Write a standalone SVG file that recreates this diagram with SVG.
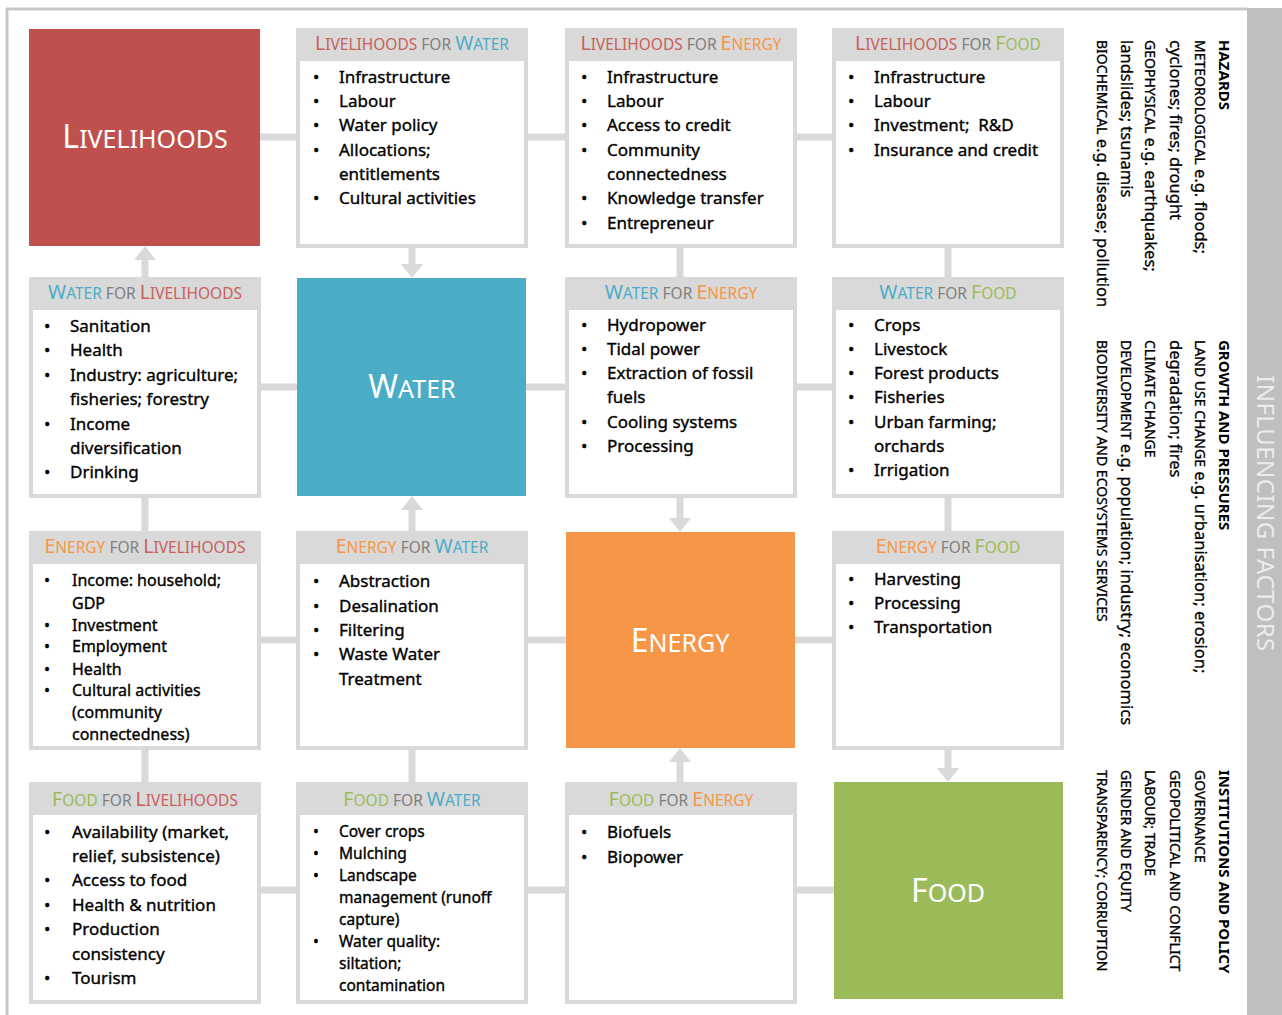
<svg xmlns="http://www.w3.org/2000/svg" width="1282" height="1015" viewBox="0 0 1282 1015">
<style>
.bg{fill:#fff}
.frame{stroke:#c8c8c8;stroke-width:3;fill:none}
.side{fill:#bfbfbf}
.cn{stroke:#d9d9d9;stroke-width:7;fill:none}
.ca{stroke:#d9d9d9;stroke-width:7;fill:none;marker-end:url(#ah)}
.cardbg{fill:#d9d9d9}
.cardin{fill:#fff}
.t{font-family:"Noto Sans","Liberation Sans",sans-serif;font-size:17px;fill:#000;stroke:#000;stroke-width:0.35px}
.ts{font-family:"Noto Sans","Liberation Sans",sans-serif;font-size:16px;fill:#000;stroke:#000;stroke-width:0.35px}
.tf{font-family:"Noto Sans","Liberation Sans",sans-serif;font-size:15.5px;fill:#000;stroke:#000;stroke-width:0.35px}
.hd{font-family:"Noto Sans","Liberation Sans",sans-serif;text-anchor:middle}
.hL{font-size:19.5px}
.hs{font-size:15.5px}
.big{font-family:"Noto Sans","Liberation Sans",sans-serif;fill:#fff;text-anchor:middle}
.bL{font-size:32px}
.bs{font-size:25px}
.cl{fill:#c8605c}
.cw{fill:#4bacc6}
.ce{fill:#f79646}
.cf{fill:#9bbb59}
.cg{fill:#7f7f7f}
.rt{font-family:"Noto Sans","Liberation Sans",sans-serif;font-size:16.5px;fill:#000;stroke:#000;stroke-width:0.3px}
.rc{font-size:14px}
.rb{font-family:"Noto Sans","Liberation Sans",sans-serif;font-size:15px;font-weight:bold;fill:#000}
.inf{font-family:"Noto Sans","Liberation Sans",sans-serif;font-size:24px;fill:#ececec;letter-spacing:0.5px}
</style>
<defs>
<marker id="ah" viewBox="0 0 14 22" refX="6" refY="11" markerWidth="14" markerHeight="22" markerUnits="userSpaceOnUse" orient="auto">
<path d="M0,0 L14,11 L0,22 z" fill="#d9d9d9"/>
</marker>
</defs>
<rect class="bg" x="0" y="0" width="1282" height="1015"/>
<g id="frame">
<line class="frame" x1="6" y1="9" x2="1247" y2="9"/>
<line class="frame" x1="7" y1="9" x2="7" y2="1015"/>
<rect class="side" x="1247" y="8" width="35" height="1007"/>
<text class="inf" transform="translate(1257,375) rotate(90)">INFLUENCING FACTORS</text>
</g>
<g id="connectors">
<line class="cn" x1="260" y1="137" x2="296" y2="137"/>
<line class="cn" x1="528" y1="137" x2="565" y2="137"/>
<line class="cn" x1="797" y1="137" x2="832" y2="137"/>
<line class="cn" x1="261" y1="387" x2="297" y2="387"/>
<line class="cn" x1="526" y1="387" x2="565" y2="387"/>
<line class="cn" x1="797" y1="387" x2="832" y2="387"/>
<line class="cn" x1="261" y1="640" x2="296" y2="640"/>
<line class="cn" x1="528" y1="640" x2="566" y2="640"/>
<line class="cn" x1="795" y1="640" x2="832" y2="640"/>
<line class="cn" x1="261" y1="890" x2="296" y2="890"/>
<line class="cn" x1="528" y1="890" x2="565" y2="890"/>
<line class="cn" x1="797" y1="890" x2="834" y2="890"/>
<line class="ca" x1="145" y1="277" x2="145" y2="254"/>
<line class="cn" x1="145" y1="498" x2="145" y2="531"/>
<line class="cn" x1="145" y1="750" x2="145" y2="782"/>
<line class="ca" x1="412" y1="248" x2="412" y2="270"/>
<line class="ca" x1="412" y1="531" x2="412" y2="504"/>
<line class="cn" x1="412" y1="750" x2="412" y2="782"/>
<line class="cn" x1="680" y1="248" x2="680" y2="277"/>
<line class="ca" x1="680" y1="498" x2="680" y2="524"/>
<line class="ca" x1="680" y1="782" x2="680" y2="756"/>
<line class="cn" x1="948" y1="248" x2="948" y2="277"/>
<line class="cn" x1="948" y1="498" x2="948" y2="531"/>
<line class="ca" x1="948" y1="750" x2="948" y2="774"/>
</g>
<g id="livelihoods">
<rect x="29" y="29" width="231" height="217" fill="#c0504d"/>
<text class="big" x="145" y="148"><tspan class="bL">L</tspan><tspan class="bs">IVELIHOODS</tspan></text>
</g>
<g id="water">
<rect x="297" y="278" width="229" height="218" fill="#4bacc6"/>
<text class="big" x="412" y="398"><tspan class="bL">W</tspan><tspan class="bs">ATER</tspan></text>
</g>
<g id="energy">
<rect x="566" y="532" width="229" height="216" fill="#f79646"/>
<text class="big" x="680" y="652"><tspan class="bL">E</tspan><tspan class="bs">NERGY</tspan></text>
</g>
<g id="food">
<rect x="834" y="782" width="229" height="217" fill="#9bbb59"/>
<text class="big" x="948" y="902"><tspan class="bL">F</tspan><tspan class="bs">OOD</tspan></text>
</g>
<g id="livelihoods-for-water">
<rect class="cardbg" x="296" y="28" width="232" height="220"/>
<rect class="cardin" x="300" y="61" width="224" height="183"/>
<text class="hd" x="412" y="50"><tspan class="hL cl">L</tspan><tspan class="hs cl">IVELIHOODS</tspan><tspan class="hs cg"> FOR </tspan><tspan class="hL cw">W</tspan><tspan class="hs cw">ATER</tspan></text>
<text class="t" x="313" y="83">•</text><text class="t" x="339" y="83">Infrastructure</text>
<text class="t" x="313" y="107">•</text><text class="t" x="339" y="107">Labour</text>
<text class="t" x="313" y="131">•</text><text class="t" x="339" y="131">Water policy</text>
<text class="t" x="313" y="156">•</text><text class="t" x="339" y="156">Allocations;</text>
<text class="t" x="339" y="180">entitlements</text>
<text class="t" x="313" y="204">•</text><text class="t" x="339" y="204">Cultural activities</text>
</g>
<g id="livelihoods-for-energy">
<rect class="cardbg" x="565" y="28" width="232" height="220"/>
<rect class="cardin" x="569" y="61" width="224" height="183"/>
<text class="hd" x="681" y="50"><tspan class="hL cl">L</tspan><tspan class="hs cl">IVELIHOODS</tspan><tspan class="hs cg"> FOR </tspan><tspan class="hL ce">E</tspan><tspan class="hs ce">NERGY</tspan></text>
<text class="t" x="581" y="83">•</text><text class="t" x="607" y="83">Infrastructure</text>
<text class="t" x="581" y="107">•</text><text class="t" x="607" y="107">Labour</text>
<text class="t" x="581" y="131">•</text><text class="t" x="607" y="131">Access to credit</text>
<text class="t" x="581" y="156">•</text><text class="t" x="607" y="156">Community</text>
<text class="t" x="607" y="180">connectedness</text>
<text class="t" x="581" y="204">•</text><text class="t" x="607" y="204">Knowledge transfer</text>
<text class="t" x="581" y="229">•</text><text class="t" x="607" y="229">Entrepreneur</text>
</g>
<g id="livelihoods-for-food">
<rect class="cardbg" x="832" y="28" width="232" height="220"/>
<rect class="cardin" x="836" y="61" width="224" height="183"/>
<text class="hd" x="948" y="50"><tspan class="hL cl">L</tspan><tspan class="hs cl">IVELIHOODS</tspan><tspan class="hs cg"> FOR </tspan><tspan class="hL cf">F</tspan><tspan class="hs cf">OOD</tspan></text>
<text class="t" x="848" y="83">•</text><text class="t" x="874" y="83">Infrastructure</text>
<text class="t" x="848" y="107">•</text><text class="t" x="874" y="107">Labour</text>
<text class="t" x="848" y="131">•</text><text class="t" x="874" y="131">Investment;&#160; R&amp;D</text>
<text class="t" x="848" y="156">•</text><text class="t" x="874" y="156">Insurance and credit</text>
</g>
<g id="water-for-livelihoods">
<rect class="cardbg" x="29" y="277" width="232" height="221"/>
<rect class="cardin" x="33" y="310" width="224" height="184"/>
<text class="hd" x="145" y="299"><tspan class="hL cw">W</tspan><tspan class="hs cw">ATER</tspan><tspan class="hs cg"> FOR </tspan><tspan class="hL cl">L</tspan><tspan class="hs cl">IVELIHOODS</tspan></text>
<text class="t" x="44" y="332">•</text><text class="t" x="70" y="332">Sanitation</text>
<text class="t" x="44" y="356">•</text><text class="t" x="70" y="356">Health</text>
<text class="t" x="44" y="381">•</text><text class="t" x="70" y="381">Industry: agriculture;</text>
<text class="t" x="70" y="405">fisheries; forestry</text>
<text class="t" x="44" y="430">•</text><text class="t" x="70" y="430">Income</text>
<text class="t" x="70" y="454">diversification</text>
<text class="t" x="44" y="478">•</text><text class="t" x="70" y="478">Drinking</text>
</g>
<g id="water-for-energy">
<rect class="cardbg" x="565" y="277" width="232" height="221"/>
<rect class="cardin" x="569" y="310" width="224" height="184"/>
<text class="hd" x="681" y="299"><tspan class="hL cw">W</tspan><tspan class="hs cw">ATER</tspan><tspan class="hs cg"> FOR </tspan><tspan class="hL ce">E</tspan><tspan class="hs ce">NERGY</tspan></text>
<text class="t" x="581" y="331">•</text><text class="t" x="607" y="331">Hydropower</text>
<text class="t" x="581" y="355">•</text><text class="t" x="607" y="355">Tidal power</text>
<text class="t" x="581" y="379">•</text><text class="t" x="607" y="379">Extraction of fossil</text>
<text class="t" x="607" y="403">fuels</text>
<text class="t" x="581" y="428">•</text><text class="t" x="607" y="428">Cooling systems</text>
<text class="t" x="581" y="452">•</text><text class="t" x="607" y="452">Processing</text>
</g>
<g id="water-for-food">
<rect class="cardbg" x="832" y="277" width="232" height="221"/>
<rect class="cardin" x="836" y="310" width="224" height="184"/>
<text class="hd" x="948" y="299"><tspan class="hL cw">W</tspan><tspan class="hs cw">ATER</tspan><tspan class="hs cg"> FOR </tspan><tspan class="hL cf">F</tspan><tspan class="hs cf">OOD</tspan></text>
<text class="t" x="848" y="331">•</text><text class="t" x="874" y="331">Crops</text>
<text class="t" x="848" y="355">•</text><text class="t" x="874" y="355">Livestock</text>
<text class="t" x="848" y="379">•</text><text class="t" x="874" y="379">Forest products</text>
<text class="t" x="848" y="403">•</text><text class="t" x="874" y="403">Fisheries</text>
<text class="t" x="848" y="428">•</text><text class="t" x="874" y="428">Urban farming;</text>
<text class="t" x="874" y="452">orchards</text>
<text class="t" x="848" y="476">•</text><text class="t" x="874" y="476">Irrigation</text>
</g>
<g id="energy-for-livelihoods">
<rect class="cardbg" x="29" y="531" width="232" height="219"/>
<rect class="cardin" x="33" y="564" width="224" height="182"/>
<text class="hd" x="145" y="553"><tspan class="hL ce">E</tspan><tspan class="hs ce">NERGY</tspan><tspan class="hs cg"> FOR </tspan><tspan class="hL cl">L</tspan><tspan class="hs cl">IVELIHOODS</tspan></text>
<text class="ts" x="44" y="586">•</text><text class="ts" x="72" y="586">Income: household;</text>
<text class="ts" x="72" y="609">GDP</text>
<text class="ts" x="44" y="631">•</text><text class="ts" x="72" y="631">Investment</text>
<text class="ts" x="44" y="652">•</text><text class="ts" x="72" y="652">Employment</text>
<text class="ts" x="44" y="675">•</text><text class="ts" x="72" y="675">Health</text>
<text class="ts" x="44" y="696">•</text><text class="ts" x="72" y="696">Cultural activities</text>
<text class="ts" x="72" y="718">(community</text>
<text class="ts" x="72" y="740">connectedness)</text>
</g>
<g id="energy-for-water">
<rect class="cardbg" x="296" y="531" width="232" height="219"/>
<rect class="cardin" x="300" y="564" width="224" height="182"/>
<text class="hd" x="412" y="553"><tspan class="hL ce">E</tspan><tspan class="hs ce">NERGY</tspan><tspan class="hs cg"> FOR </tspan><tspan class="hL cw">W</tspan><tspan class="hs cw">ATER</tspan></text>
<text class="t" x="313" y="587">•</text><text class="t" x="339" y="587">Abstraction</text>
<text class="t" x="313" y="612">•</text><text class="t" x="339" y="612">Desalination</text>
<text class="t" x="313" y="636">•</text><text class="t" x="339" y="636">Filtering</text>
<text class="t" x="313" y="660">•</text><text class="t" x="339" y="660">Waste Water</text>
<text class="t" x="339" y="685">Treatment</text>
</g>
<g id="energy-for-food">
<rect class="cardbg" x="832" y="531" width="232" height="219"/>
<rect class="cardin" x="836" y="564" width="224" height="182"/>
<text class="hd" x="948" y="553"><tspan class="hL ce">E</tspan><tspan class="hs ce">NERGY</tspan><tspan class="hs cg"> FOR </tspan><tspan class="hL cf">F</tspan><tspan class="hs cf">OOD</tspan></text>
<text class="t" x="848" y="585">•</text><text class="t" x="874" y="585">Harvesting</text>
<text class="t" x="848" y="609">•</text><text class="t" x="874" y="609">Processing</text>
<text class="t" x="848" y="633">•</text><text class="t" x="874" y="633">Transportation</text>
</g>
<g id="food-for-livelihoods">
<rect class="cardbg" x="29" y="782" width="232" height="222"/>
<rect class="cardin" x="33" y="815" width="224" height="185"/>
<text class="hd" x="145" y="806"><tspan class="hL cf">F</tspan><tspan class="hs cf">OOD</tspan><tspan class="hs cg"> FOR </tspan><tspan class="hL cl">L</tspan><tspan class="hs cl">IVELIHOODS</tspan></text>
<text class="t" x="44" y="838">•</text><text class="t" x="72" y="838">Availability (market,</text>
<text class="t" x="72" y="862">relief, subsistence)</text>
<text class="t" x="44" y="886">•</text><text class="t" x="72" y="886">Access to food</text>
<text class="t" x="44" y="911">•</text><text class="t" x="72" y="911">Health &amp; nutrition</text>
<text class="t" x="44" y="935">•</text><text class="t" x="72" y="935">Production</text>
<text class="t" x="72" y="960">consistency</text>
<text class="t" x="44" y="984">•</text><text class="t" x="72" y="984">Tourism</text>
</g>
<g id="food-for-water">
<rect class="cardbg" x="296" y="782" width="232" height="222"/>
<rect class="cardin" x="300" y="815" width="224" height="185"/>
<text class="hd" x="412" y="806"><tspan class="hL cf">F</tspan><tspan class="hs cf">OOD</tspan><tspan class="hs cg"> FOR </tspan><tspan class="hL cw">W</tspan><tspan class="hs cw">ATER</tspan></text>
<text class="tf" x="313" y="837">•</text><text class="tf" x="339" y="837">Cover crops</text>
<text class="tf" x="313" y="859">•</text><text class="tf" x="339" y="859">Mulching</text>
<text class="tf" x="313" y="881">•</text><text class="tf" x="339" y="881">Landscape</text>
<text class="tf" x="339" y="903">management (runoff</text>
<text class="tf" x="339" y="925">capture)</text>
<text class="tf" x="313" y="947">•</text><text class="tf" x="339" y="947">Water quality:</text>
<text class="tf" x="339" y="969">siltation;</text>
<text class="tf" x="339" y="991">contamination</text>
</g>
<g id="food-for-energy">
<rect class="cardbg" x="565" y="782" width="232" height="222"/>
<rect class="cardin" x="569" y="815" width="224" height="185"/>
<text class="hd" x="681" y="806"><tspan class="hL cf">F</tspan><tspan class="hs cf">OOD</tspan><tspan class="hs cg"> FOR </tspan><tspan class="hL ce">E</tspan><tspan class="hs ce">NERGY</tspan></text>
<text class="t" x="581" y="838">•</text><text class="t" x="607" y="838">Biofuels</text>
<text class="t" x="581" y="863">•</text><text class="t" x="607" y="863">Biopower</text>
</g>
<g id="hazards">
<text class="rb" transform="translate(1219,40) rotate(90)">HAZARDS</text>
<text class="rt" transform="translate(1195,40) rotate(90)"><tspan class="rc">METEOROLOGICAL</tspan> e.g. floods;</text>
<text class="rt" transform="translate(1170,40) rotate(90)">cyclones; fires; drought</text>
<text class="rt" transform="translate(1145,40) rotate(90)"><tspan class="rc">GEOPHYSICAL</tspan> e.g. earthquakes;</text>
<text class="rt" transform="translate(1121,40) rotate(90)">landslides; tsunamis</text>
<text class="rt" transform="translate(1097,40) rotate(90)"><tspan class="rc">BIOCHEMICAL</tspan> e.g. disease; pollution</text>
</g>
<g id="growth">
<text class="rb" transform="translate(1219,340) rotate(90)">GROWTH AND PRESSURES</text>
<text class="rt" transform="translate(1195,340) rotate(90)"><tspan class="rc">LAND USE CHANGE</tspan> e.g. urbanisation; erosion;</text>
<text class="rt" transform="translate(1170,340) rotate(90)">degradation; fires</text>
<text class="rt" transform="translate(1145,340) rotate(90)"><tspan class="rc">CLIMATE CHANGE</tspan></text>
<text class="rt" transform="translate(1121,340) rotate(90)"><tspan class="rc">DEVELOPMENT</tspan> e.g. population; industry; economics</text>
<text class="rt" transform="translate(1097,340) rotate(90)"><tspan class="rc">BIODIVERSITY AND ECOSYSTEMS SERVICES</tspan></text>
</g>
<g id="institutions">
<text class="rb" transform="translate(1219,770) rotate(90)">INSTITUTIONS AND POLICY</text>
<text class="rt" transform="translate(1195,770) rotate(90)"><tspan class="rc">GOVERNANCE</tspan></text>
<text class="rt" transform="translate(1170,770) rotate(90)"><tspan class="rc">GEOPOLITICAL AND CONFLICT</tspan></text>
<text class="rt" transform="translate(1145,770) rotate(90)"><tspan class="rc">LABOUR; TRADE</tspan></text>
<text class="rt" transform="translate(1121,770) rotate(90)"><tspan class="rc">GENDER AND EQUITY</tspan></text>
<text class="rt" transform="translate(1097,770) rotate(90)"><tspan class="rc">TRANSPARENCY; CORRUPTION</tspan></text>
</g>
</svg>
